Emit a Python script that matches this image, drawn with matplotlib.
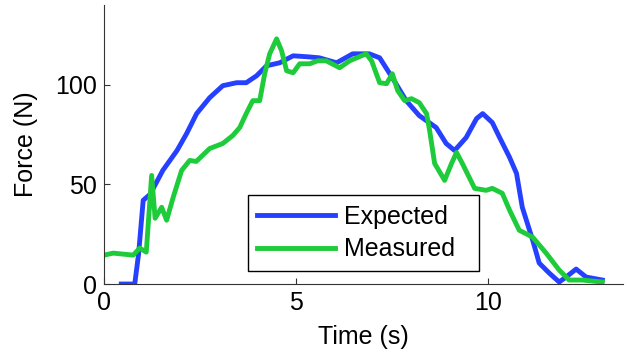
import matplotlib
matplotlib.use('Agg')
import matplotlib.pyplot as plt

# Datos (tiempo en s, fuerza en N)
t_exp = [0.45, 0.8, 0.9, 1.02, 1.2, 1.53, 1.9, 2.15, 2.41, 2.75, 3.09, 3.45, 3.7, 3.97, 4.23,
         4.57, 4.92, 5.3, 5.6, 6.05, 6.47, 6.9, 7.17, 7.5, 7.86, 8.2, 8.64, 8.9, 9.12, 9.42,
         9.69, 9.85, 10.1, 10.29, 10.55, 10.73, 10.88, 11.15, 11.32, 11.58, 11.84, 12.02,
         12.28, 12.54, 12.96]
f_exp = [0, 0, 15, 42, 45, 57, 67, 75.5, 85.5, 93.5, 99.5, 101, 101, 104.5, 109.5,
         111, 114.5, 114, 113.5, 111, 115.5, 115.5, 113.5, 103.5, 92, 84.5, 78.5, 70.5, 67, 73.5,
         83, 85.5, 81, 73.5, 63.5, 55.5, 38.5, 22, 10.5, 5.5, 1, 3.5,
         7.5, 3.5, 2]

t_mea = [0, 0.24, 0.76, 0.93, 1.1, 1.24, 1.33, 1.5, 1.63, 1.8, 2.02, 2.23, 2.4, 2.75, 3.09,
         3.35, 3.53, 3.7, 3.87, 4.05, 4.18, 4.31, 4.49, 4.62, 4.75, 4.92, 5.09, 5.35, 5.56,
         5.78, 6.13, 6.39, 6.82, 6.96, 7.17, 7.35, 7.5, 7.64, 7.82, 8.0, 8.2, 8.39, 8.47,
         8.6, 8.86, 9.04, 9.17, 9.32, 9.5, 9.64, 9.94, 10.1, 10.36, 10.55, 10.8, 11.15,
         11.5, 11.84, 12.1, 12.44, 12.96]
f_mea = [14.5, 15.5, 14.5, 18, 16, 54.5, 33, 38.5, 32, 43.5, 57, 62, 61.5, 68, 70.5,
         74.5, 78.5, 85.5, 92, 92, 105.5, 115.5, 123, 117, 107, 106, 110.5, 110.5, 112,
         112, 108.5, 112, 115.5, 112, 101, 100.5, 105.5, 97, 92, 93, 91, 85.5, 77,
         60.5, 52, 60.5, 66, 60.5, 53.5, 48, 47, 48, 45.5, 37, 27, 23.5,
         15.5, 7, 2, 2, 1]

plt.rcParams['font.family'] = ['Liberation Sans', 'DejaVu Sans']

fig = plt.figure(figsize=(6.29, 3.56), dpi=100)
ax = fig.add_axes([0.1653, 0.2022, 0.8252, 0.7838])

ax.plot(t_exp, f_exp, color='#2640ff', lw=3.5, label='Expected')
ax.plot(t_mea, f_mea, color='#1ecb3a', lw=3.5, label='Measured')

ax.set_xlim(0, 13.5)
ax.set_ylim(0, 140)
ax.set_xticks([0, 5, 10])
ax.set_yticks([0, 50, 100])
ax.spines['top'].set_visible(False)
ax.spines['right'].set_visible(False)
ax.spines['left'].set_color('#333333')
ax.spines['bottom'].set_color('#333333')
ax.tick_params(direction='in', length=4, labelsize=18, color='#333333', pad=5)
ax.set_xlabel('Time (s)', fontsize=18, labelpad=7)
ax.set_ylabel('Force (N)', fontsize=18, labelpad=12)

leg = ax.legend(loc='lower left', bbox_to_anchor=(0.277, 0.047, 0.445, 0.265), mode='expand',
                fontsize=18, handlelength=3.1, handletextpad=0.36, borderpad=0.38,
                labelspacing=0.34, fancybox=False, framealpha=1, borderaxespad=0)
leg.get_frame().set_edgecolor('black')
leg.get_frame().set_linewidth(1.0)

plt.savefig('out.png', dpi=100)
plt.close()
